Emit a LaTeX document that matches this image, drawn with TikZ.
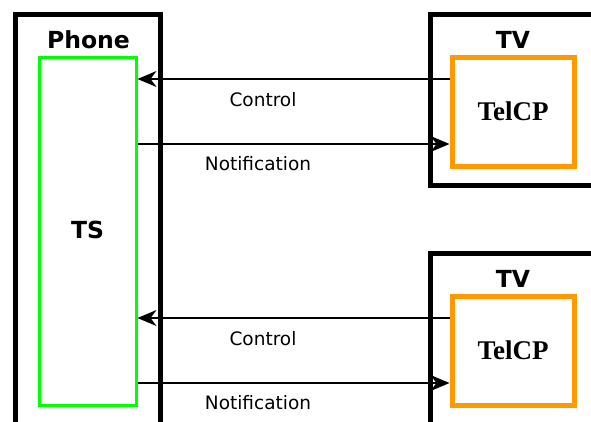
\documentclass[tikz,border=0pt]{standalone}
\usepackage{fontspec}
\setmainfont{DejaVu Sans}
\newfontfamily\telfont{Liberation Serif}
\usetikzlibrary{arrows.meta}
\definecolor{tvorange}{HTML}{FF9900}

\begin{document}
\begin{tikzpicture}[x=1pt, y=-1pt,
    devbox/.style={draw, line width=5pt, inner sep=0pt},
    devname/.style={font=\bfseries\fontsize{23.5}{28}\selectfont},
    tsbox/.style={draw=green, line width=3pt, inner sep=0pt, minimum width=97pt, minimum height=348pt,
      font=\bfseries\fontsize{23.5}{28}\selectfont},
    telbox/.style={draw=tvorange, line width=5pt, inner sep=0pt, minimum width=122pt, minimum height=109pt,
      font=\telfont\bfseries\fontsize{27}{32}\selectfont},
    msg/.style={line width=1.5pt, -{Stealth[length=19pt, width=16pt, inset=6pt]}},
    msgname/.style={font=\fontsize{18.5}{22}\selectfont}]
  \clip (0,0) rectangle (591,421);
  % phone side
  \node[devbox, minimum width=145pt, minimum height=440pt] (phone) at (87.5,234) {};
  \node[devname] (phonename) at (88.5,40) {Phone};
  \node[tsbox] (ts) at (87.5,231) {\raisebox{2pt}{TS}};
  % the two TVs
  \foreach \i/\dy in {1/0, 2/239} {
    \node[devbox, minimum width=210pt, minimum height=171pt] (tv\i) at (535,99.5+\dy) {};
    \node[devname] (tvname\i) at (513,40+\dy) {TV};
    \node[telbox] (tel\i) at (513,111.5+\dy) {TelCP};
    \coordinate (ctl\i) at ([yshift=32.5pt]tel\i.west);
    \coordinate (ntf\i) at ([yshift=-32.5pt]tel\i.west);
    \draw[msg] (ctl\i) -- (ctl\i -| ts.east);
    \draw[msg] (ntf\i -| ts.east) -- (ntf\i);
    \node[msgname] (ctlname\i) at (263,100+\dy) {Control};
    \node[msgname] (ntfname\i) at (258,164+\dy) {Notification};
  }
\end{tikzpicture}
\end{document}
